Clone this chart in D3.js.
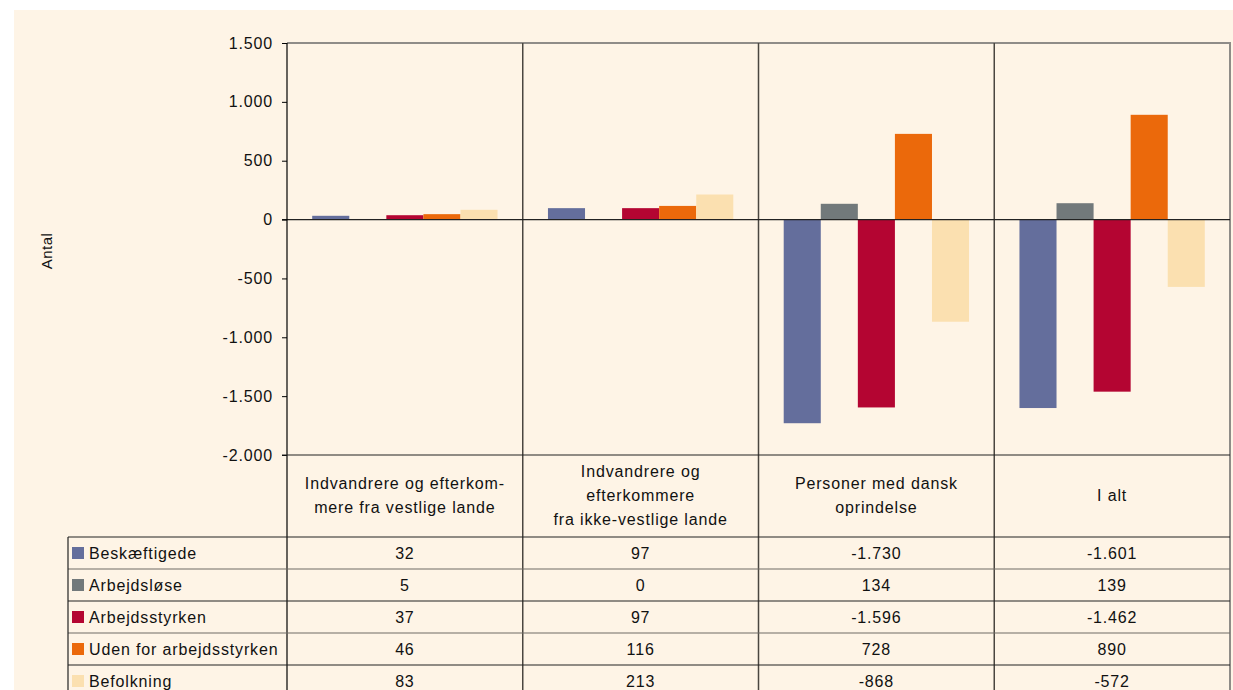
<!DOCTYPE html>
<html>
<head>
<meta charset="utf-8">
<script src="https://cdn.jsdelivr.net/npm/d3@7"></script>
<style>
body { margin: 0; background: #fff; }
svg { display: block; font-family: "Liberation Sans", Arial, sans-serif; }
</style>
</head>
<body>
<svg id="chart" width="1233" height="690"></svg>
<script>
// categories (header lines) and series
var categories = ["vest", "ikkevest", "dansk", "ialt"];
var categoryLines = [
  ["Indvandrere og efterkom-", "mere fra vestlige lande"],
  ["Indvandrere og", "efterkommere", "fra ikke-vestlige lande"],
  ["Personer med dansk", "oprindelse"],
  ["I alt"]
];
var seriesNames = ["Beskæftigede", "Arbejdsløse", "Arbejdsstyrken", "Uden for arbejdsstyrken", "Befolkning"];
var seriesColors = ["#646e9c", "#72797b", "#b40532", "#eb690b", "#fbe0b0"];

var beskaeftigede = [32, 97, -1730, -1601];
var arbejdsloese = [5, 0, 134, 139];
var arbejdsstyrken = [37, 97, -1596, -1462];
var udenFor = [46, 116, 728, 890];
var befolkning = [83, 213, -868, -572];
var series = [beskaeftigede, arbejdsloese, arbejdsstyrken, udenFor, befolkning];

var yTicks = [1500, 1000, 500, 0, -500, -1000, -1500, -2000];

var svg = d3.select("#chart");
var fmt = function(v) {
  // danish style thousands separator
  var s = d3.format(",")(v).replace(/,/g, ".");
  return s.replace("−", "-");
};
var FS = 16, LS = 0.85;

svg.append("rect")
  .attr("x", 14).attr("y", 10)
  .attr("width", 1219).attr("height", 680)
  .attr("fill", "#fef4e6");

var plotL = 287, plotR = 1230, plotT = 43, plotB = 455;

var x = d3.scaleBand().domain(categories).range([plotL, plotR]).padding(0);
var xs = d3.scaleBand().domain(d3.range(seriesNames.length))
  .range([0, x.bandwidth()]).paddingInner(0).paddingOuter(0.68);
var y = d3.scaleLinear().domain([-2000, 1500]).range([plotB, plotT]);

// plot border (top/right)
svg.append("path")
  .attr("d", "M" + plotL + "," + plotT + "H" + plotR + "V" + plotB)
  .attr("fill", "none").attr("stroke", "#8f8c88").attr("stroke-width", 2);

// bars
var g = svg.append("g");
series.forEach(function(vals, si) {
  g.selectAll(null)
    .data(vals)
    .enter().append("rect")
    .attr("x", function(d, i) { return x(categories[i]) + xs(si); })
    .attr("width", xs.bandwidth())
    .attr("y", function(d) { return y(Math.max(0, d)); })
    .attr("height", function(d) { return Math.abs(y(d) - y(0)); })
    .attr("fill", seriesColors[si]);
});

// category separators in plot
svg.selectAll(null)
  .data(categories.slice(1))
  .enter().append("line")
  .attr("x1", function(d) { return x(d); })
  .attr("x2", function(d) { return x(d); })
  .attr("y1", plotT).attr("y2", 690)
  .attr("stroke", "#4a4640").attr("stroke-width", 1.5);

// right border through table
svg.append("line")
  .attr("x1", plotR).attr("x2", plotR).attr("y1", plotB).attr("y2", 690)
  .attr("stroke", "#8f8c88").attr("stroke-width", 2);

// zero line
svg.append("line")
  .attr("x1", plotL - 5).attr("x2", plotR)
  .attr("y1", y(0)).attr("y2", y(0))
  .attr("stroke", "#222").attr("stroke-width", 1.2);

// y axis
var yAxis = svg.append("g")
  .attr("transform", "translate(" + plotL + ",0)")
  .call(d3.axisLeft(y).tickValues(yTicks).tickFormat(fmt).tickSize(5).tickPadding(9));
yAxis.select(".domain").remove();
yAxis.selectAll(".tick line").attr("stroke", "#000");
yAxis.selectAll(".tick text").attr("font-size", FS).attr("fill", "#111")
  .attr("letter-spacing", LS)
  .attr("font-family", "'Liberation Sans', Arial, sans-serif");
svg.append("line")
  .attr("x1", plotL).attr("x2", plotL).attr("y1", plotT).attr("y2", 690)
  .attr("stroke", "#000").attr("stroke-width", 1.2);

svg.append("text")
  .attr("transform", "translate(52,251) rotate(-90)")
  .attr("text-anchor", "middle")
  .attr("font-size", 15)
  .attr("letter-spacing", 0.5)
  .attr("fill", "#111")
  .text("Antal");

// data table
var headerBottom = 537, rowH = 32, legendLeft = 68;
svg.append("line")
  .attr("x1", plotL - 5).attr("x2", plotR).attr("y1", plotB).attr("y2", plotB)
  .attr("stroke", "#222");

// header text
categories.forEach(function(c, i) {
  var lines = categoryLines[i];
  var cy = (plotB + headerBottom) / 2 + 5;
  var lh = 24;
  var t = svg.append("text")
    .attr("text-anchor", "middle")
    .attr("font-size", FS)
    .attr("fill", "#111")
    .attr("letter-spacing", LS);
  lines.forEach(function(l, li) {
    t.append("tspan")
      .attr("x", x(c) + x.bandwidth() / 2)
      .attr("y", cy + (li - (lines.length - 1) / 2) * lh)
      .text(l);
  });
});

// row lines
var rowLines = d3.range(seriesNames.length + 1).map(function(i) { return headerBottom + i * rowH; });
svg.selectAll(null)
  .data(rowLines)
  .enter().append("line")
  .attr("x1", legendLeft).attr("x2", plotR)
  .attr("y1", function(d) { return d; }).attr("y2", function(d) { return d; })
  .attr("stroke", function(d, i) { return i % 2 === 0 ? "#222" : "#6e6a64"; })
  .attr("stroke-width", 1.2);
svg.append("line")
  .attr("x1", legendLeft).attr("x2", legendLeft).attr("y1", headerBottom).attr("y2", 690)
  .attr("stroke", "#222").attr("stroke-width", 1.2);

// legend cells + values
seriesNames.forEach(function(name, si) {
  var cy = headerBottom + si * rowH + rowH / 2;
  svg.append("rect")
    .attr("x", 72).attr("y", cy - 6)
    .attr("width", 12).attr("height", 12)
    .attr("fill", seriesColors[si]);
  svg.append("text")
    .attr("x", 89).attr("y", cy + 6)
    .attr("font-size", FS).attr("fill", "#111")
    .attr("letter-spacing", LS)
    .text(name);
  svg.selectAll(null)
    .data(series[si])
    .enter().append("text")
    .attr("x", function(d, i) { return x(categories[i]) + x.bandwidth() / 2; })
    .attr("y", cy + 6)
    .attr("text-anchor", "middle")
    .attr("font-size", FS).attr("fill", "#111")
    .attr("letter-spacing", LS)
    .text(function(d) { return fmt(d); });
});
</script>
</body>
</html>
